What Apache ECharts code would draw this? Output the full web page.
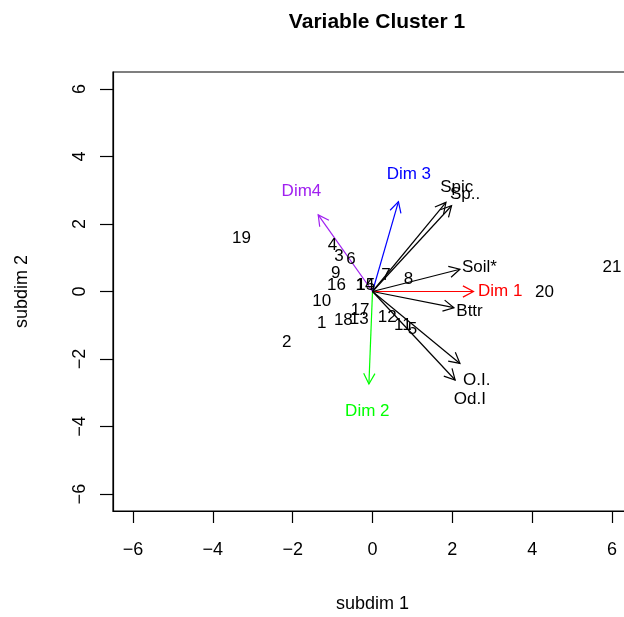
<!DOCTYPE html>
<html>
<head>
<meta charset="utf-8">
<script src="https://cdn.jsdelivr.net/npm/echarts@6/dist/echarts.min.js"></script>
<style>
html,body{margin:0;padding:0;overflow:hidden;background:#fff;}
#c{width:640px;height:617px;}
</style>
</head>
<body>
<div id="c"></div>
<script>
// ---- data ----
const obsLabels = ['1','2','3','4','5','6','7','8','9','10','11','12','13','14','15','16','17','18','19','20','21'];
const obsX = [-1.27,-2.15,-0.84,-1.00,1.00,-0.54,0.34,0.90,-0.92,-1.27,0.76,0.37,-0.33,-0.19,-0.17,-0.90,-0.31,-0.73,-3.28,4.31,6.00];
const obsY = [-0.94,-1.49,1.03,1.38,-1.11,0.95,0.49,0.37,0.54,-0.30,-0.99,-0.75,-0.83,0.19,0.19,0.19,-0.55,-0.84,1.58,-0.02,0.73];

const varNames = ['Dim 1','Dim 2','Dim 3','Dim4','Spic','Sp..','Soil*','Bttr','O.I.','Od.I'];
const varX = [2.53,-0.09,0.65,-1.36,1.84,1.98,2.19,2.04,2.19,2.07];
const varY = [0.00,-2.74,2.66,2.27,2.64,2.54,0.66,-0.48,-2.13,-2.62];
const varLabelX = [3.20,-0.13,0.91,-1.78,2.11,2.32,2.68,2.43,2.61,2.44];
const varLabelY = [0.00,-3.56,3.48,2.96,3.08,2.88,0.73,-0.60,-2.62,-3.19];

const tickValues = [-6,-4,-2,0,2,4,6];
const axisRange = [-6.5, 6.5];

// ---- styles ----
const varColor = {'Dim 1':'#FF0000','Dim 2':'#00FF00','Dim 3':'#0000FF','Dim4':'#A020F0'};
const FONT = 'Liberation Sans, Arial, Helvetica, sans-serif';

const arrowData = varNames.map((n,i)=>({value:[0,0,varX[i],varY[i]], name:n}));
const varLabelData = varNames.map((n,i)=>({value:[varLabelX[i],varLabelY[i]], name:n}));
const obsData = obsLabels.map((n,i)=>({value:[obsX[i],obsY[i]], name:n}));

const chart = echarts.init(document.getElementById('c'), null, {renderer:'canvas'});

function textItem(params, api){
  const p = api.coord([api.value(0), api.value(1)]);
  const name = params.dataIndexInside !== undefined ? this_names[params.seriesName][params.dataIndexInside] : '';
  return null;
}
const namesBySeries = {obs: obsLabels, vars: varNames};

function renderText(params, api){
  const p = api.coord([api.value(0), api.value(1)]);
  const nm = namesBySeries[params.seriesId][params.dataIndex];
  return {
    type:'text', x:p[0], y:p[1],
    style:{text:nm, fill: varColor[nm] || '#000', font: '17px ' + FONT, align:'center', verticalAlign:'middle'}
  };
}

function renderArrow(params, api){
  const a = api.coord([api.value(0), api.value(1)]);
  const b = api.coord([api.value(2), api.value(3)]);
  const nm = varNames[params.dataIndex];
  const col = varColor[nm] || '#000';
  const ang = Math.atan2(b[1]-a[1], b[0]-a[0]);
  const L = 12, th = 28*Math.PI/180;
  const h1 = [b[0]-L*Math.cos(ang-th), b[1]-L*Math.sin(ang-th)];
  const h2 = [b[0]-L*Math.cos(ang+th), b[1]-L*Math.sin(ang+th)];
  return {
    type:'group',
    children:[
      {type:'line', shape:{x1:a[0],y1:a[1],x2:b[0],y2:b[1]}, style:{stroke:col, lineWidth:1.2}},
      {type:'polyline', shape:{points:[h1,b,h2]}, style:{stroke:col, lineWidth:1.2, fill:null}}
    ]
  };
}

const option = {
  animation:false,
  backgroundColor:'#fff',
  title:{
    text:'Variable Cluster 1', left:372, top:7, textAlign:'center',
    textStyle:{fontFamily:FONT, fontWeight:'bold', fontSize:21, color:'#000'}
  },
  grid:{left:113, top:72, width:519, height:439, show:true, borderColor:'#000', borderWidth:1.2, containLabel:false, outerBoundsMode:'none'},
  xAxis:{
    type:'value', min:axisRange[0], max:axisRange[1],
    name:'subdim 1', nameLocation:'middle', nameGap:84,
    nameTextStyle:{fontFamily:FONT, fontSize:18, color:'#000'},
    splitLine:{show:false},
    axisLine:{show:true, onZero:false, lineStyle:{color:'#000', width:1.2}},
    axisTick:{show:true, inside:false, length:12, customValues:tickValues, lineStyle:{color:'#000', width:1.2}},
    axisLabel:{show:true, customValues:tickValues, margin:30, fontFamily:FONT, fontSize:18, color:'#000',
      formatter:v=>String(v).replace('-','\u2212')}
  },
  yAxis:{
    type:'value', min:axisRange[0], max:axisRange[1],
    name:'subdim 2', nameLocation:'middle', nameGap:82, nameRotate:90,
    nameTextStyle:{fontFamily:FONT, fontSize:18, color:'#000'},
    splitLine:{show:false},
    axisLine:{show:true, onZero:false, lineStyle:{color:'#000', width:1.2}},
    axisTick:{show:true, inside:false, length:13, customValues:tickValues, lineStyle:{color:'#000', width:1.2}},
    axisLabel:{show:true, customValues:tickValues, rotate:90, margin:24, fontFamily:FONT, fontSize:18, color:'#000',
      formatter:v=>String(v).replace('-','\u2212')}
  },
  series:[
    {id:'arrows', type:'custom', coordinateSystem:'cartesian2d', renderItem:renderArrow, data:arrowData, clip:true, encode:{x:[0,2], y:[1,3]}},
    {id:'obs', type:'custom', coordinateSystem:'cartesian2d', renderItem:renderText, data:obsData, clip:true, encode:{x:0,y:1}},
    {id:'vars', type:'custom', coordinateSystem:'cartesian2d', renderItem:renderText, data:varLabelData, clip:true, encode:{x:0,y:1}}
  ]
};
chart.setOption(option);
</script>
</body>
</html>
